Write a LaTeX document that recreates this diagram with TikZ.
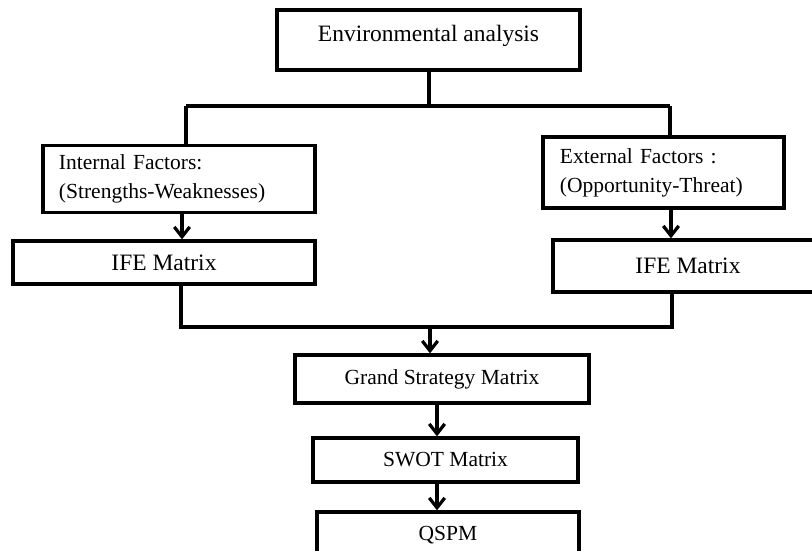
\documentclass[tikz,border=0pt]{standalone}
\usepackage{fontspec}
\setmainfont{Liberation Serif}
\usetikzlibrary{arrows.meta,positioning}
\tikzset{stage/.style={draw=black,line width=2.3pt,inner sep=0pt,font=\fontsize{15.3}{20.6}\selectfont}}
\tikzset{bigstage/.style={stage,font=\fontsize{16.7}{20}\selectfont}}
\tikzset{factor/.style={stage,align=left}}
\tikzset{link/.style={line width=2.3pt}}
\tikzset{flow/.style={link,-{Straight Barb[length=7pt,width=11pt]}}}

\begin{document}
\begin{tikzpicture}[x=0.025cm,y=-0.025cm]
% \draw[help lines] (0,0) grid (812,551);
\useasboundingbox (0,0) rectangle (812,551);
\node (env) [bigstage,minimum width=7.575cm,text height=0.8cm,text depth=0.7cm] at (428.5,40) {Environmental analysis};
\node (internal) [factor,minimum width=6.8cm,minimum height=1.675cm,text width=6cm,inner xsep=0.4cm,yshift=-0.08cm] at (179,175.5) {Internal Factors:\\(Strengths-Weaknesses)};
\node (external) [factor,minimum width=6.025cm,minimum height=1.775cm,text width=5.175cm,inner xsep=0.425cm] at (663.5,172.5) {External Factors :\\(Opportunity-Threat)};
\node (ifel) [bigstage,minimum width=7.55cm,minimum height=1.075cm] at (164,262.5) {IFE Matrix};
\node (ifer) [bigstage,minimum width=6.75cm,minimum height=1.3cm] at (688,266) {IFE Matrix};
\node (grand) [stage,minimum width=7.35cm,minimum height=1.2cm] at (442,379) {Grand Strategy Matrix};
\node (swot) [stage,minimum width=6.625cm,minimum height=1.1cm] at (445.5,460) {SWOT Matrix};
\node (qspm) [stage,minimum width=6.55cm,minimum height=1.15cm] at (448,535) {QSPM};
%
\coordinate (split) at (429,106);
\coordinate (lsplit) at (186,106);
\coordinate (rsplit) at (670,106);
\coordinate (lcol) at (182,0);
\coordinate (rcol) at (671,0);
\coordinate (lmerge) at (181,327);
\coordinate (rmerge) at (672,327);
\coordinate (merge) at (430,327);
\coordinate (spine) at (437,0);
%
\draw[link] (env.south -| split) -- (split);
\draw[link] (lsplit) -- (rsplit);
\draw[link] (lsplit) -- (lsplit |- internal.north);
\draw[link] (rsplit) -- (rsplit |- external.north);
\draw[flow] (internal.south -| lcol) -- (ifel.north -| lcol);
\draw[flow] (external.south -| rcol) -- (ifer.north -| rcol);
\draw[link] (ifel.south -| lmerge) -- (lmerge) -- (rmerge) -- (ifer.south -| rmerge);
\draw[flow] (merge) -- (merge |- grand.north);
\draw[flow] (grand.south -| spine) -- (swot.north -| spine);
\draw[flow] (swot.south -| spine) -- (qspm.north -| spine);
\end{tikzpicture}
\end{document}
